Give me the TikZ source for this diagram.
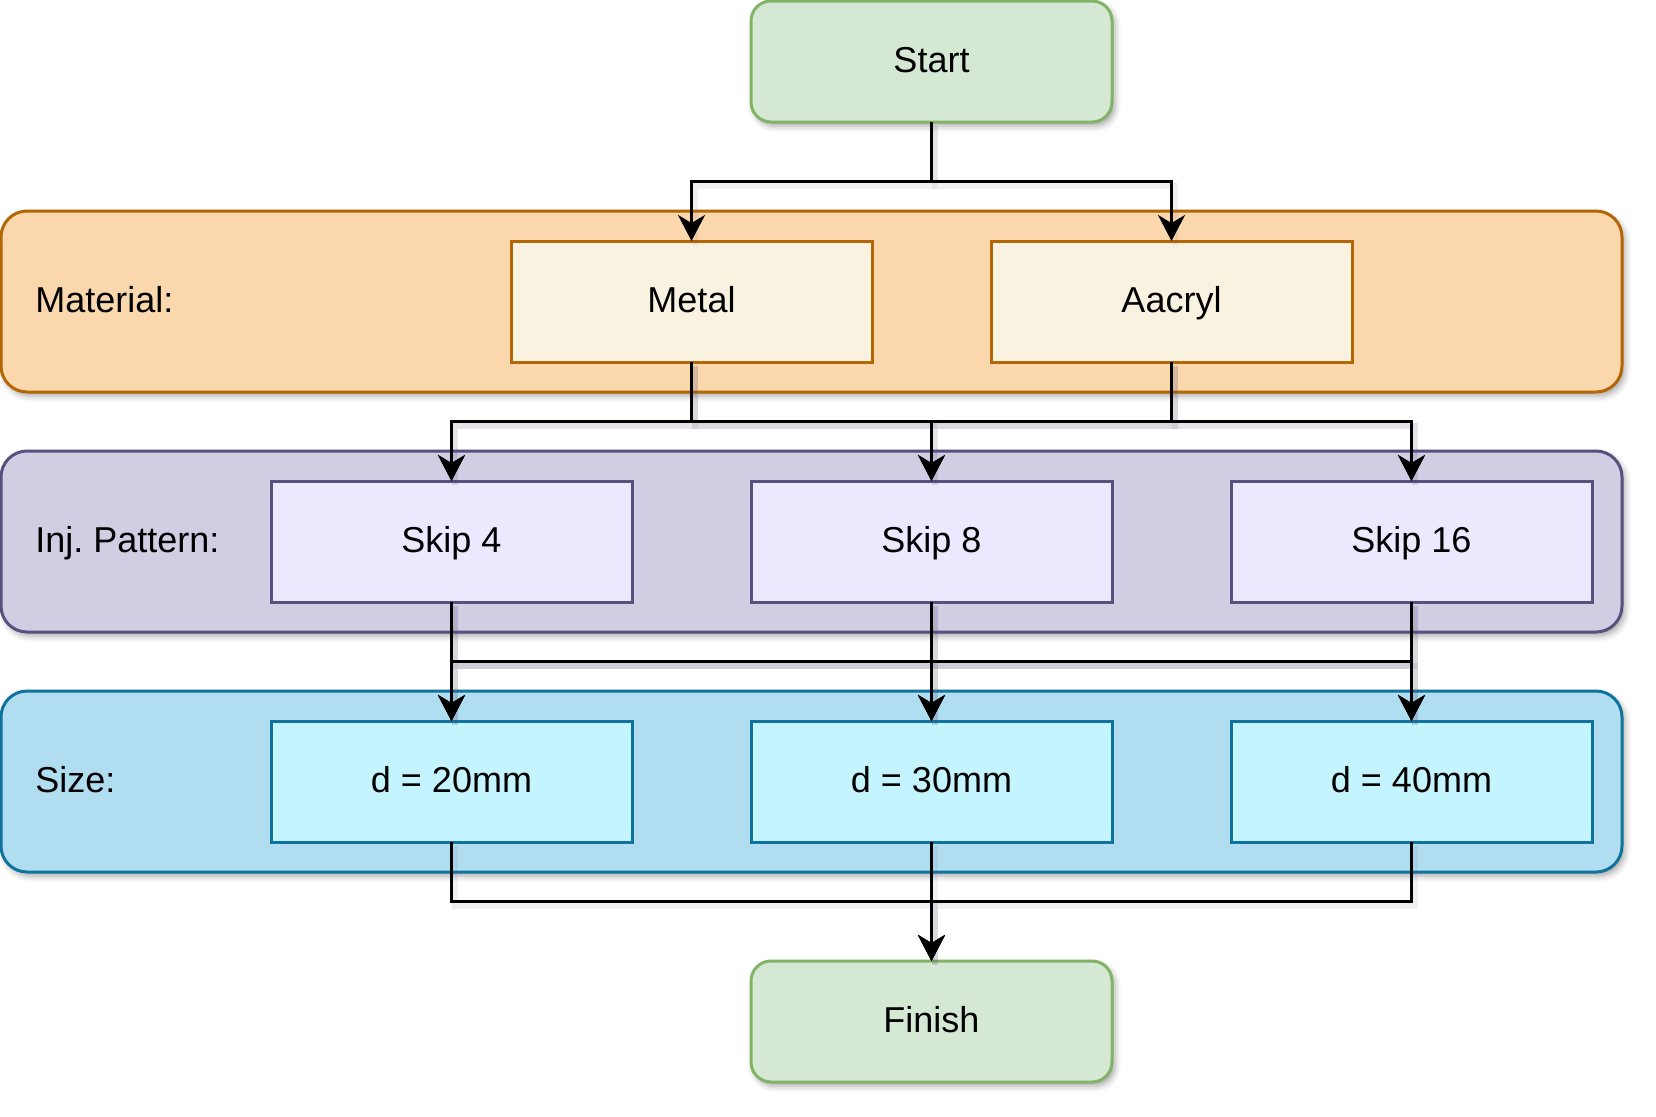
\documentclass[tikz,border=0pt]{standalone}
\usepackage{fontspec}
\setmainfont{Liberation Sans}
\usetikzlibrary{arrows.meta,shadows.blur}
\definecolor{gfill}{HTML}{D5E8D4}
\definecolor{gdraw}{HTML}{82B366}
\definecolor{ofill}{HTML}{FAD7AC}
\definecolor{odraw}{HTML}{B46504}
\definecolor{oin}{HTML}{FAF2E0}
\definecolor{pfill}{HTML}{D0CEE2}
\definecolor{pdraw}{HTML}{56517E}
\definecolor{pin}{HTML}{ECE8FD}
\definecolor{bfill}{HTML}{B1DDF0}
\definecolor{bdraw}{HTML}{10739E}
\definecolor{bin}{HTML}{C4F5FE}
\definecolor{shadowc}{HTML}{50506E}
\frenchspacing
\begin{document}
\begin{tikzpicture}[x=0.5pt,y=-0.5pt,
  font=\fontsize{18pt}{21.6pt}\selectfont,
  shad/.style={blur shadow={shadow xshift=1.5pt,shadow yshift=-2pt,shadow blur radius=3pt,shadow opacity=35}},
  box/.style={rectangle,draw,line width=1.5pt,minimum width=180.5pt,minimum height=60.5pt,
    inner sep=0pt,outer sep=0pt,text height=12.8pt,text depth=2.2pt},
  term/.style={box,rounded corners=10pt,fill=gfill,draw=gdraw,shad},
  obox/.style={box,fill=oin,draw=odraw},
  pbox/.style={box,fill=pin,draw=pdraw},
  bbox/.style={box,fill=bin,draw=bdraw},
  band/.style={rectangle,draw,line width=1.5pt,minimum width=810.5pt,minimum height=90.5pt,
    rounded corners=13pt,inner sep=0pt,outer sep=0pt,shad},
  lab/.style={anchor=base west,inner sep=0pt},
  conn/.style={line width=1.4pt,
    preaction={draw=shadowc,-,line width=3pt,opacity=0.08,transform canvas={shift={(1.5pt,-2pt)}}},
    -{Stealth[length=13pt,width=13.5pt,inset=4pt]}}
]
\useasboundingbox (0,0) rectangle (1656,1116);

% bands
\node[band,fill=ofill,draw=odraw] (b1) at (811.5,301.5) {};
\node[band,fill=pfill,draw=pdraw] (b2) at (811.5,541.5) {};
\node[band,fill=bfill,draw=bdraw] (b3) at (811.5,781.5) {};

% band labels
\node[lab] (l1) at (35,312.5) {Material:};
\node[lab] (l2) at (35,552.5) {Inj. Pattern:};
\node[lab] (l3) at (35,792.5) {Size:};

% terminals
\node[term] (start) at (931.5,61.5) {Start};
\node[term] (finish) at (931.5,1021.5) {Finish};

% boxes
\node[obox] (metal) at (691.5,301.5) {Metal};
\node[obox] (aacryl) at (1171.5,301.5) {Aacryl};

\node[pbox] (skip4) at (451.5,541.5) {Skip 4};
\node[pbox] (skip8) at (931.5,541.5) {Skip 8};
\node[pbox] (skip16) at (1411.5,541.5) {Skip 16};

\node[bbox] (d20) at (451.5,781.5) {d = 20mm};
\node[bbox] (d30) at (931.5,781.5) {d = 30mm};
\node[bbox] (d40) at (1411.5,781.5) {d = 40mm};

% junction levels
\coordinate (j1) at (0,181.5);
\coordinate (j2) at (0,421.5);
\coordinate (j3) at (0,661.5);
\coordinate (j4) at (0,901.5);

% connectors
\foreach \t in {metal,aacryl}
  \draw[conn] (start.south) -- (start.south |- j1) -| (\t.north);
\foreach \s in {metal,aacryl}
  \foreach \t in {skip4,skip8,skip16}
    \draw[conn] (\s.south) -- (\s.south |- j2) -| (\t.north);
\foreach \s in {skip4,skip8,skip16}
  \foreach \t in {d20,d30,d40}
    \draw[conn] (\s.south) -- (\s.south |- j3) -| (\t.north);
\foreach \s in {d20,d30,d40}
  \draw[conn] (\s.south) -- (\s.south |- j4) -| (finish.north);
\end{tikzpicture}
\end{document}
